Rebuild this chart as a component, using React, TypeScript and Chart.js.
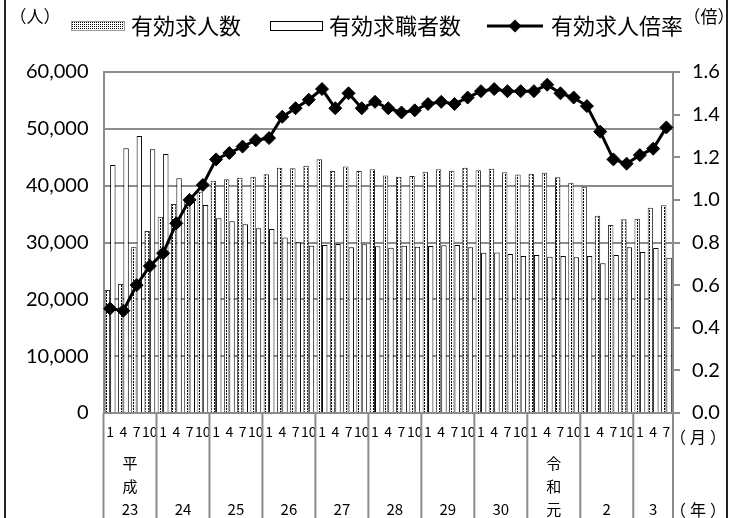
import React, { useEffect, useRef } from "react";
import { Chart, registerables } from "chart.js";

Chart.register(...registerables);

// ---- data ----
const MONTHS: string[] = [
  "1", "4", "7", "10", "1", "4", "7", "10", "1", "4", "7", "10",
  "1", "4", "7", "10", "1", "4", "7", "10", "1", "4", "7", "10",
  "1", "4", "7", "10", "1", "4", "7", "10", "1", "4", "7", "10",
  "1", "4", "7", "10", "1", "4", "7",
];

// 有効求人数
const JOB_OFFERS: number[] = [
  21640, 22700, 29270, 32020, 34540, 36770, 37600, 38940, 40880, 41110,
  41400, 41580, 42000, 43170, 43050, 43520, 44640, 42580, 43370, 42580,
  42870, 41810, 41580, 41700, 42430, 42870, 42610, 43160, 42730, 42990,
  42380, 41960, 42110, 42290, 41470, 40530, 39830, 34720, 33080, 34070,
  34190, 36130, 36540,
];

// 有効求職者数
const JOB_SEEKERS: number[] = [
  43640, 46570, 48740, 46400, 45570, 41300, 37600, 36600, 34250, 33720,
  33200, 32490, 32370, 30900, 30030, 29440, 29560, 29740, 29150, 29700,
  29350, 29090, 29450, 29270, 29380, 29530, 29540, 29150, 28210, 28240,
  27970, 27620, 27800, 27510, 27620, 27390, 27620, 26330, 27800, 29150,
  28330, 29030, 27330,
];

// 有効求人倍率
const RATIO: number[] = [
  0.49, 0.48, 0.6, 0.69, 0.75, 0.89, 1.0, 1.07, 1.19, 1.22,
  1.25, 1.28, 1.29, 1.39, 1.43, 1.47, 1.52, 1.43, 1.5, 1.43,
  1.46, 1.43, 1.41, 1.42, 1.45, 1.46, 1.45, 1.48, 1.51, 1.52,
  1.51, 1.51, 1.51, 1.54, 1.5, 1.48, 1.44, 1.32, 1.19, 1.17,
  1.21, 1.24, 1.34,
];

const YEAR_LINES: string[][] = [
  ["平", "成", "23"], ["24"], ["25"], ["26"], ["27"], ["28"], ["29"], ["30"],
  ["令", "和", "元"], ["2"], ["3"],
];
const YEAR_QUARTERS: number[] = [4, 4, 4, 4, 4, 4, 4, 4, 4, 4, 3];

const LEFT_TICKS_MAX = 60000;
const LEFT_STEP = 10000;
const RIGHT_TICKS_MAX = 1.6;
const RIGHT_STEP = 0.2;

const SERIES_NAMES = ["有効求人数", "有効求職者数", "有効求人倍率"];

const CJK = '"Noto Sans CJK JP", "Noto Sans", sans-serif';
const NUM = 'Lato, "Open Sans", sans-serif';
const GRID = "#8c8c8c";

function makePattern(
  ctx: CanvasRenderingContext2D,
  w: number,
  h: number,
  cells: number[][]
): CanvasPattern | string {
  const c = document.createElement("canvas");
  c.width = w;
  c.height = h;
  const g = c.getContext("2d");
  if (!g) return "#bbb";
  g.fillStyle = "#fff";
  g.fillRect(0, 0, w, h);
  g.fillStyle = "#000";
  cells.forEach(([x, y]) => g.fillRect(x, y, 1, 1));
  return ctx.createPattern(c, "repeat") || "#bbb";
}

export default function App() {
  const ref = useRef<HTMLCanvasElement | null>(null);

  useEffect(() => {
    const canvas = ref.current;
    if (!canvas) return;
    const ctx0 = canvas.getContext("2d")!;
    const barDots = makePattern(ctx0, 3, 3, [[1, 0], [1, 1]]);
    const legendDots = makePattern(ctx0, 2, 2, [[0, 0]]);

    const overlay = {
      id: "overlay",
      afterDraw(chart: any) {
        const ctx: CanvasRenderingContext2D = chart.ctx;
        const xs = chart.scales.x;
        const area = chart.chartArea;
        const n = MONTHS.length;
        const cw = (area.right - area.left) / n;
        ctx.save();

        // month labels
        ctx.fillStyle = "#000";
        ctx.textAlign = "center";
        ctx.textBaseline = "middle";
        ctx.font = `14px ${CJK}`;
        MONTHS.forEach((m, i) => ctx.fillText(m, xs.getPixelForValue(i), 432));

        // year separators
        const bounds: number[] = [area.left];
        let idx = 0;
        YEAR_QUARTERS.forEach((q) => {
          idx += q;
          bounds.push(area.left + idx * cw);
        });
        ctx.strokeStyle = GRID;
        ctx.lineWidth = 2;
        bounds.forEach((b) => {
          ctx.beginPath();
          ctx.moveTo(b, area.bottom);
          ctx.lineTo(b, 520);
          ctx.stroke();
        });

        // year labels
        YEAR_LINES.forEach((lines, k) => {
          const cx = (bounds[k] + bounds[k + 1]) / 2;
          const L = lines.length;
          lines.forEach((t, j) => {
            ctx.font = `15px ${CJK}`;
            ctx.fillText(t, cx, 509 - (L - 1 - j) * 23);
          });
        });

        // unit labels
        ctx.font = `16px ${CJK}`;
        (ctx as any).letterSpacing = "4px";
        ctx.fillText("（月）", 700, 437);
        ctx.fillText("（年）", 700, 510);
        (ctx as any).letterSpacing = "0px";
        ctx.font = `17px ${CJK}`;
        ctx.fillText("（人）", 35, 17);
        ctx.fillText("（倍）", 709, 17);

        // legend
        const LY = 26;
        ctx.fillStyle = legendDots as any;
        ctx.fillRect(71, LY - 5, 54, 10);
        ctx.strokeStyle = "#999";
        ctx.lineWidth = 1;
        ctx.strokeRect(71.5, LY - 4.5, 53, 9);
        ctx.fillStyle = "#000";
        ctx.textAlign = "left";
        ctx.font = `22px ${CJK}`;
        ctx.fillText(SERIES_NAMES[0], 131, LY);

        ctx.fillStyle = "#fff";
        ctx.fillRect(270, LY - 5, 53, 10);
        ctx.strokeStyle = "#000";
        ctx.lineWidth = 1;
        ctx.strokeRect(270.5, LY - 4.5, 52, 9);
        ctx.fillStyle = "#000";
        ctx.fillText(SERIES_NAMES[1], 329, LY);

        ctx.strokeStyle = "#000";
        ctx.lineWidth = 3;
        ctx.beginPath();
        ctx.moveTo(487, LY);
        ctx.lineTo(543, LY);
        ctx.stroke();
        ctx.beginPath();
        ctx.moveTo(515, LY - 6.5);
        ctx.lineTo(521.5, LY);
        ctx.lineTo(515, LY + 6.5);
        ctx.lineTo(508.5, LY);
        ctx.closePath();
        ctx.fill();
        ctx.fillText(SERIES_NAMES[2], 551, LY);

        // outer frame lines
        ctx.strokeStyle = "#222";
        ctx.lineWidth = 2;
        ctx.beginPath();
        ctx.moveTo(5, 0);
        ctx.lineTo(5, 518);
        ctx.moveTo(727, 0);
        ctx.lineTo(727, 518);
        ctx.stroke();

        ctx.restore();
      },
    };

    const chart = new Chart(canvas, {
      type: "bar",
      data: {
        labels: MONTHS,
        datasets: [
          {
            type: "line",
            label: SERIES_NAMES[2],
            data: RATIO,
            yAxisID: "y1",
            borderColor: "#000",
            backgroundColor: "#000",
            borderWidth: 3,
            pointStyle: "rectRot",
            pointRadius: 6.5,
            pointBackgroundColor: "#000",
            pointBorderColor: "#000",
            pointBorderWidth: 1,
            tension: 0,
            order: 0,
          } as any,
          {
            type: "bar",
            label: SERIES_NAMES[0],
            data: JOB_OFFERS,
            yAxisID: "y",
            backgroundColor: barDots as any,
            borderColor: "#333",
            borderWidth: 1,
            categoryPercentage: 0.82,
            barPercentage: 1,
            order: 1,
          },
          {
            type: "bar",
            label: SERIES_NAMES[1],
            data: JOB_SEEKERS,
            yAxisID: "y",
            backgroundColor: "#fff",
            borderColor: "#000",
            borderWidth: 1,
            categoryPercentage: 0.82,
            barPercentage: 1,
            order: 1,
          },
        ],
      },
      options: {
        responsive: false,
        animation: false,
        events: [],
        layout: { padding: { top: 72, left: 0, right: 0, bottom: 0 }, autoPadding: false } as any,
        plugins: {
          legend: { display: false },
          tooltip: { enabled: false },
          title: { display: false },
        },
        scales: {
          x: {
            type: "category",
            offset: true,
            grid: { display: false },
            ticks: { display: false },
            border: { display: true, color: GRID, width: 2 },
            afterFit: (s: any) => {
              s.height = 105;
            },
          },
          y: {
            position: "left",
            min: 0,
            max: LEFT_TICKS_MAX,
            ticks: {
              stepSize: LEFT_STEP,
              padding: 15,
              color: "#000",
              font: { family: NUM, size: 20 },
              callback: (v: any) => Number(v).toLocaleString("en-US"),
            },
            grid: { color: GRID, lineWidth: 2, drawTicks: false },
            border: { display: true, color: GRID, width: 2 },
            afterFit: (s: any) => {
              s.width = 103.5;
            },
          },
          y1: {
            position: "right",
            min: 0,
            max: RIGHT_TICKS_MAX,
            ticks: {
              stepSize: RIGHT_STEP,
              padding: 12,
              color: "#000",
              font: { family: NUM, size: 20 },
              callback: (v: any) => Number(v).toFixed(1),
            },
            grid: { drawOnChartArea: false, color: GRID, lineWidth: 2, tickLength: 7 },
            border: { display: true, color: GRID, width: 2 },
            afterFit: (s: any) => {
              s.width = 57;
            },
          },
        },
      },
      plugins: [overlay],
    });

    return () => chart.destroy();
  }, []);

  return (
    <div
      style={{
        position: "fixed",
        left: 0,
        top: 0,
        width: 730,
        height: 518,
        background: "#fff",
      }}
    >
      <canvas ref={ref} width={730} height={518} style={{ display: "block" }} />
    </div>
  );
}
